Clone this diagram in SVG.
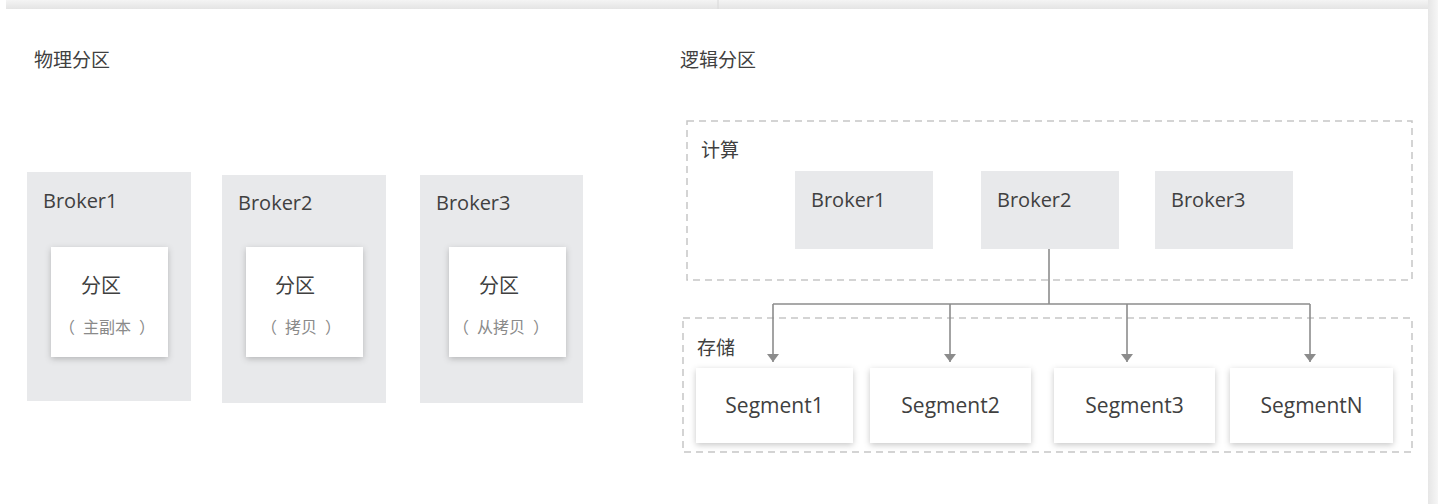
<svg xmlns="http://www.w3.org/2000/svg" width="1438" height="504" viewBox="0 0 1438 504">
<style>
  .t { font-family: "Open Sans", "Noto Sans CJK SC", sans-serif; fill: #404040; }
  .zh { font-family: "Noto Sans CJK SC", sans-serif; fill: #404040; }
  .sub { font-family: "Noto Sans CJK SC", sans-serif; fill: #8a8a8a; font-size: 16px; }
  .gray { fill: #e8e9eb; }
  .card { fill: #ffffff; filter: url(#sh); }
  .dash { fill: none; stroke: #c6c6c6; stroke-width: 1.5; stroke-dasharray: 7 5; }
  .conn { fill: none; stroke: #8c8c8c; stroke-width: 1.6; }
</style>
<defs>
  <filter id="sh" x="-20%" y="-20%" width="140%" height="150%">
    <feDropShadow dx="0" dy="2" stdDeviation="3" flood-color="#000" flood-opacity="0.22"/>
  </filter>
  <linearGradient id="topg" x1="0" y1="0" x2="0" y2="1">
    <stop offset="0" stop-color="#f4f4f4"/>
    <stop offset="1" stop-color="#e4e4e4"/>
  </linearGradient>
  <linearGradient id="rightg" x1="0" y1="0" x2="1" y2="0">
    <stop offset="0" stop-color="#e6e6e6"/>
    <stop offset="1" stop-color="#f6f6f6"/>
  </linearGradient>
  <marker id="arr" viewBox="0 0 8 12" refX="8" refY="6" markerWidth="8" markerHeight="12" markerUnits="userSpaceOnUse" orient="auto">
    <path d="M0,0 L8,6 L0,12 Z" fill="#8c8c8c"/>
  </marker>
</defs>
<rect width="1438" height="504" fill="#ffffff"/>
<rect x="6" y="0" width="1432" height="9" fill="url(#topg)"/>
<rect x="1428" y="0" width="10" height="504" fill="url(#rightg)"/>
<line x1="718" y1="0" x2="718" y2="9" stroke="#d8d8d8" stroke-width="1"/>

<text class="zh" x="34" y="67" font-size="19">物理分区</text>
<text class="zh" x="680" y="67" font-size="19">逻辑分区</text>

<g id="p-broker1">
  <rect class="gray" x="27" y="172" width="164" height="229"/>
  <text class="t" x="43" y="208" font-size="20">Broker1</text>
  <rect class="card" x="51" y="247" width="117" height="110"/>
  <text class="zh" x="81" y="293" font-size="20">分区</text>
  <text class="sub" x="107" y="333" text-anchor="middle">（<tspan dx="8">主副本</tspan><tspan dx="8">）</tspan></text>
</g>
<g id="p-broker2">
  <rect class="gray" x="222" y="175" width="164" height="228"/>
  <text class="t" x="238" y="210" font-size="20">Broker2</text>
  <rect class="card" x="246" y="247" width="117" height="110"/>
  <text class="zh" x="275" y="293" font-size="20">分区</text>
  <text class="sub" x="301" y="333" text-anchor="middle">（<tspan dx="8">拷贝</tspan><tspan dx="8">）</tspan></text>
</g>
<g id="p-broker3">
  <rect class="gray" x="420" y="175" width="163" height="228"/>
  <text class="t" x="436" y="210" font-size="20">Broker3</text>
  <rect class="card" x="449" y="247" width="117" height="110"/>
  <text class="zh" x="479" y="293" font-size="20">分区</text>
  <text class="sub" x="501" y="333" text-anchor="middle">（<tspan dx="8">从拷贝</tspan><tspan dx="8">）</tspan></text>
</g>

<g id="compute">
  <rect class="dash" x="687" y="121" width="725" height="159"/>
  <text class="zh" x="701" y="157" font-size="19">计算</text>
</g>
<g id="c-broker1">
  <rect class="gray" x="795" y="171" width="138" height="78"/>
  <text class="t" x="811" y="207" font-size="20">Broker1</text>
</g>
<g id="c-broker2">
  <rect class="gray" x="981" y="171" width="138" height="78"/>
  <text class="t" x="997" y="207" font-size="20">Broker2</text>
</g>
<g id="c-broker3">
  <rect class="gray" x="1155" y="171" width="138" height="78"/>
  <text class="t" x="1171" y="207" font-size="20">Broker3</text>
</g>

<g id="storage">
  <rect class="dash" x="683" y="318" width="729" height="134"/>
  <text class="zh" x="697" y="355" font-size="19">存储</text>
</g>
<g id="seg1">
  <rect class="card" x="696" y="368" width="157" height="75"/>
  <text class="t" x="774.5" y="413" font-size="21" text-anchor="middle">Segment1</text>
</g>
<g id="seg2">
  <rect class="card" x="870" y="368" width="161" height="75"/>
  <text class="t" x="950.5" y="413" font-size="21" text-anchor="middle">Segment2</text>
</g>
<g id="seg3">
  <rect class="card" x="1054" y="368" width="161" height="75"/>
  <text class="t" x="1134.5" y="413" font-size="21" text-anchor="middle">Segment3</text>
</g>
<g id="segN">
  <rect class="card" x="1230" y="368" width="163" height="75"/>
  <text class="t" x="1311.5" y="413" font-size="21" text-anchor="middle">SegmentN</text>
</g>

<g id="connectors">
  <path class="conn" d="M1049,249 V304"/>
  <path class="conn" d="M773,304 H1310"/>
  <path class="conn" d="M773,304 V362" marker-end="url(#arr)"/>
  <path class="conn" d="M950,304 V362" marker-end="url(#arr)"/>
  <path class="conn" d="M1127,304 V362" marker-end="url(#arr)"/>
  <path class="conn" d="M1310,304 V362" marker-end="url(#arr)"/>
</g>
</svg>
